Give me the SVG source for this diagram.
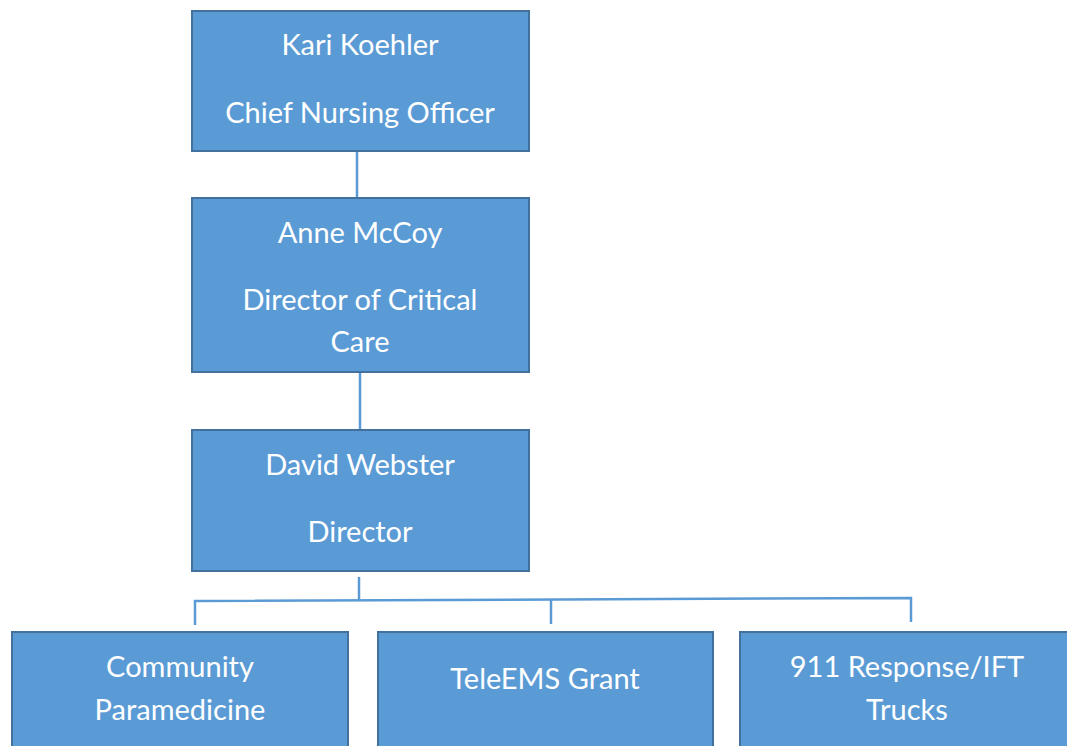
<svg xmlns="http://www.w3.org/2000/svg" width="1067" height="746" viewBox="0 0 1067 746">
<style>
.box{fill:#5B9BD5;stroke:#41719C;stroke-width:2}
.t{font-family:Lato,"Open Sans","Liberation Sans",sans-serif;font-size:29px;fill:#FFFFFF;text-anchor:middle}
.c{stroke:#5B9BD5;stroke-width:2.5;fill:none}
</style>
<rect width="1067" height="746" fill="#FFFFFF"/>
<g id="connectors">
<line class="c" x1="357" y1="151" x2="357" y2="198"/>
<line class="c" x1="360" y1="372" x2="360" y2="430"/>
<line class="c" x1="359" y1="577" x2="359" y2="600"/>
<path class="c" d="M195 625 V601 L911 598 V622"/>
<line class="c" x1="551" y1="599" x2="551" y2="624"/>
</g>
<g id="n1">
<rect class="box" x="192" y="11" width="337" height="140"/>
<text class="t" x="360" y="55">Kari Koehler</text>
<text class="t" x="360" y="123">Chief Nursing Officer</text>
</g>
<g id="n2">
<rect class="box" x="192" y="198" width="337" height="174"/>
<text class="t" x="360" y="243">Anne McCoy</text>
<text class="t" x="360" y="310">Director of Critical</text>
<text class="t" x="360" y="352">Care</text>
</g>
<g id="n3">
<rect class="box" x="192" y="430" width="337" height="141"/>
<text class="t" x="360" y="475">David Webster</text>
<text class="t" x="360" y="542">Director</text>
</g>
<g id="n4">
<rect class="box" x="12" y="632" width="336" height="130"/>
<text class="t" x="180" y="677">Community</text>
<text class="t" x="180" y="720">Paramedicine</text>
</g>
<g id="n5">
<rect class="box" x="378" y="632" width="335" height="130"/>
<text class="t" x="545" y="689">TeleEMS Grant</text>
</g>
<g id="n6">
<rect class="box" x="740" y="632" width="338" height="130"/>
<text class="t" x="907" y="677">911 Response/IFT</text>
<text class="t" x="907" y="720">Trucks</text>
</g>
</svg>
